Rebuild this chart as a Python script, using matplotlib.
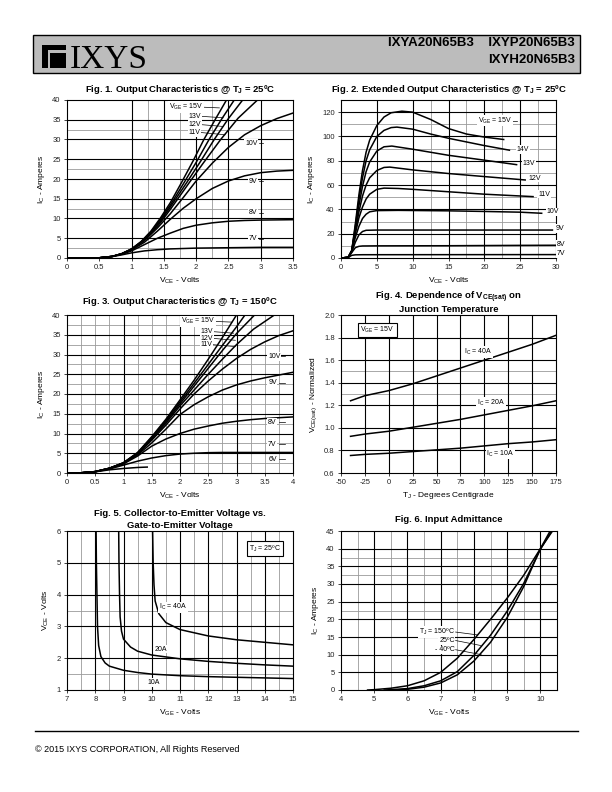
import matplotlib
matplotlib.use('Agg')
import matplotlib.pyplot as plt
from matplotlib.patches import Rectangle
from matplotlib.lines import Line2D

plt.rcParams['font.family'] = ['Liberation Sans', 'DejaVu Sans']
plt.rcParams['mathtext.default'] = 'regular'
NARROW = ['Liberation Sans Narrow', 'Liberation Sans', 'DejaVu Sans']

# ---- Fig. 1: output characteristics @ Tj = 25C (VCE volts -> IC amps) ----
f1_15v_x = [0, 0.5, 0.7, 0.85, 1.0, 1.15, 1.3, 1.45, 1.6, 1.77, 1.95, 2.12, 2.3, 2.47]
f1_15v_y = [0, 0.05, 0.4, 1.1, 2.3, 4.2, 6.8, 10.2, 14.0, 19.0, 24.5, 30, 35.2, 40]
f1_13v_x = [0, 0.5, 0.7, 0.85, 1.0, 1.15, 1.3, 1.45, 1.6, 1.81, 2.0, 2.2, 2.4, 2.59]
f1_13v_y = [0, 0.05, 0.4, 1.1, 2.3, 4.1, 6.6, 9.8, 13.4, 19.0, 24.2, 30, 35.3, 40]
f1_12v_x = [0, 0.5, 0.7, 0.85, 1.0, 1.15, 1.3, 1.45, 1.6, 1.85, 2.05, 2.28, 2.5, 2.72]
f1_12v_y = [0, 0.05, 0.4, 1.1, 2.25, 4.0, 6.4, 9.4, 12.9, 19.0, 24.0, 30, 35.3, 40]
f1_11v_x = [0, 0.5, 0.7, 0.85, 1.0, 1.15, 1.3, 1.45, 1.6, 1.89, 2.1, 2.38, 2.65, 2.95]
f1_11v_y = [0, 0.05, 0.4, 1.1, 2.2, 3.9, 6.2, 9.0, 12.3, 19.0, 23.8, 30, 35.4, 40]
f1_10v_x = [0, 0.5, 0.7, 0.85, 1.0, 1.2, 1.4, 1.6, 1.8, 2.0, 2.25, 2.5, 2.75, 3.0, 3.25, 3.5]
f1_10v_y = [0, 0.05, 0.4, 1.05, 2.1, 4.4, 7.6, 11.2, 15.3, 19.5, 24.0, 28.0, 31.2, 33.5, 35.3, 36.7]
f1_9v_x = [0, 0.5, 0.7, 0.85, 1.0, 1.2, 1.4, 1.6, 1.8, 2.0, 2.25, 2.5, 2.75, 3.0, 3.25, 3.5]
f1_9v_y = [0, 0.05, 0.4, 1.0, 2.0, 4.0, 6.8, 9.8, 12.6, 15.0, 17.6, 19.5, 20.8, 21.6, 22.0, 22.2]
f1_8v_x = [0, 0.5, 0.7, 0.85, 1.0, 1.2, 1.4, 1.6, 1.8, 2.0, 2.25, 2.5, 2.75, 3.0, 3.5]
f1_8v_y = [0, 0.05, 0.4, 0.95, 1.8, 3.4, 5.0, 6.3, 7.5, 8.3, 8.9, 9.3, 9.5, 9.6, 9.7]
f1_7v_x = [0, 0.5, 0.7, 0.85, 1.0, 1.2, 1.4, 1.6, 2.0, 2.5, 3.0, 3.5]
f1_7v_y = [0, 0.05, 0.35, 0.8, 1.3, 1.8, 2.1, 2.3, 2.5, 2.6, 2.7, 2.7]

# ---- Fig. 2: extended output characteristics @ 25C ----
f2_15v_x = [0, 1.0, 1.5, 2.0, 2.5, 3.0, 3.5, 4.0, 5.0, 6.0, 7.0, 8.5, 10, 12.5, 15, 17.5, 20, 22.7]
f2_15v_y = [0, 0.5, 6, 28, 52, 72, 87, 97, 109, 116, 119.5, 120.8, 120, 114, 106.5, 102, 99.5, 97.5]
f2_14v_x = [0, 1.0, 1.5, 2.0, 2.5, 3.0, 3.5, 4.0, 5.0, 6.0, 7.0, 7.8, 10, 12.5, 15, 17.5, 20, 23.5]
f2_14v_y = [0, 0.5, 6, 26, 48, 66, 80, 89, 100, 105, 107.3, 107.7, 106, 102, 98.5, 95.5, 92.5, 88.7]
f2_13v_x = [0, 1.0, 1.5, 2.0, 2.5, 3.0, 3.5, 4.0, 5.0, 6.0, 7.1, 10, 12.5, 15, 17.5, 20, 24.5]
f2_13v_y = [0, 0.5, 6, 24, 43, 59, 71, 79, 88, 91.5, 92.1, 89.5, 87, 84.5, 82.5, 80.5, 76.8]
f2_12v_x = [0, 1.0, 1.5, 2.0, 2.5, 3.0, 3.5, 4.0, 5.0, 6.0, 6.8, 10, 15, 20, 25.7]
f2_12v_y = [0, 0.5, 6, 22, 38, 51, 60, 66, 72, 74.5, 74.8, 72.5, 69.5, 67, 64.2]
f2_11v_x = [0, 1.0, 1.5, 2.0, 2.5, 3.0, 3.5, 4.0, 5.0, 6.0, 8, 10, 15, 20, 26.8]
f2_11v_y = [0, 0.5, 6, 20, 33, 42, 48.5, 52.5, 56.5, 57.5, 57.2, 56.5, 54.5, 52.5, 50.5]
f2_10v_x = [0, 1.0, 1.5, 2.0, 2.5, 3.0, 3.5, 4.0, 5.0, 8, 15, 20, 25, 28]
f2_10v_y = [0, 0.5, 5.5, 17, 26, 32.5, 36, 38, 39, 39.2, 38.8, 38.3, 37.7, 36.8]
f2_9v_x = [0, 1.0, 1.5, 2.0, 2.5, 3.0, 3.5, 5, 15, 29.5]
f2_9v_y = [0, 0.5, 5, 13, 19, 21.8, 22.8, 23, 23, 23]
f2_8v_x = [0, 1.0, 1.5, 2.0, 2.5, 3.0, 5, 15, 25, 30]
f2_8v_y = [0, 0.5, 4.5, 8.5, 9.6, 9.9, 10, 10.1, 10.4, 10.5]
f2_7v_x = [0, 1.0, 1.5, 2.0, 3, 30]
f2_7v_y = [0, 0.4, 2.2, 2.6, 2.7, 2.8]

# ---- Fig. 3: output characteristics @ Tj = 150C ----
f3_x = [0, 0.25, 0.5, 0.75, 1.0, 1.25, 1.5, 1.75, 2.0, 2.25, 2.5, 2.75, 3.0, 3.25, 3.5, 3.75, 4.0]
f3_15v_x = f3_x[:13]
f3_15v_y = [0, 0.05, 0.35, 1.2, 2.6, 5.2, 9.2, 13.6, 18.5, 23.5, 28.8, 34.3, 40]
f3_13v_x = f3_x[:13] + [3.15]
f3_13v_y = [0, 0.05, 0.35, 1.2, 2.6, 5.1, 9.0, 13.3, 18.0, 22.7, 27.5, 32.3, 37.0, 40]
f3_12v_x = f3_x[:13] + [3.32]
f3_12v_y = [0, 0.05, 0.35, 1.2, 2.55, 5.0, 8.8, 13.0, 17.5, 22.0, 26.5, 31.0, 35.3, 40]
f3_11v_x = f3_x[:13] + [3.3, 3.67]
f3_11v_y = [0, 0.05, 0.35, 1.2, 2.5, 4.9, 8.6, 12.6, 17.0, 21.0, 25.0, 28.8, 32.5, 36.4, 40]
f3_10v_y = [0, 0.05, 0.35, 1.2, 2.5, 4.8, 8.3, 12.1, 16.2, 20.0, 23.3, 26.3, 29.0, 31.3, 33.2, 34.8, 36.0]
f3_9v_y = [0, 0.05, 0.35, 1.15, 2.4, 4.6, 7.6, 11.1, 14.8, 17.3, 19.3, 21.0, 22.3, 23.3, 24.1, 24.8, 25.5]
f3_8v_y = [0, 0.05, 0.35, 1.1, 2.3, 4.3, 6.8, 8.6, 10.0, 11.1, 11.9, 12.6, 13.1, 13.5, 13.8, 14.0, 14.2]
f3_7v_y = [0, 0.05, 0.3, 1.0, 2.0, 3.0, 3.8, 4.4, 4.8, 5.0, 5.15, 5.2, 5.2, 5.2, 5.2, 5.2, 5.2]
f3_6v_x = [0, 0.25, 0.5, 0.75, 1.0, 1.25, 1.42]
f3_6v_y = [0, 0.05, 0.3, 0.8, 1.15, 1.4, 1.5]

# ---- Fig. 4: VCE(sat) normalized vs junction temperature ----
f4_tj = [-40, -25, 0, 25, 50, 75, 100, 125, 150, 175]
f4_40a = [1.24, 1.285, 1.33, 1.39, 1.46, 1.53, 1.60, 1.67, 1.74, 1.82]
f4_20a = [0.925, 0.945, 0.97, 1.005, 1.04, 1.075, 1.115, 1.155, 1.195, 1.24]
f4_10a = [0.755, 0.765, 0.775, 0.79, 0.805, 0.82, 0.84, 0.86, 0.875, 0.895]

# ---- Fig. 5: VCE vs VGE @ 25C ----
f5_40a_x = [10.03, 10.05, 10.08, 10.12, 10.25, 10.5, 11, 12, 13, 14, 15]
f5_40a_y = [6.0, 5.0, 4.3, 3.8, 3.4, 3.12, 2.9, 2.7, 2.58, 2.5, 2.42]
f5_20a_x = [8.83, 8.84, 8.86, 8.88, 8.93, 9.0, 9.25, 9.5, 10, 11, 12, 13, 14, 15]
f5_20a_y = [6.0, 5.0, 4.0, 3.3, 2.85, 2.6, 2.35, 2.22, 2.1, 1.98, 1.9, 1.84, 1.79, 1.75]
f5_10a_x = [8.03, 8.04, 8.06, 8.08, 8.12, 8.2, 8.35, 8.5, 9, 9.5, 10, 11, 12, 13, 14, 15]
f5_10a_y = [6.0, 5.0, 4.0, 3.0, 2.4, 2.05, 1.85, 1.75, 1.62, 1.55, 1.5, 1.45, 1.42, 1.4, 1.38, 1.36]

# ---- Fig. 6: input admittance ----
f6_150_x = [4.8, 5.0, 5.5, 6.0, 6.5, 7.0, 7.5, 8.0, 8.5, 9.0, 9.5, 10.0, 10.38]
f6_150_y = [0, 0.1, 0.5, 1.2, 2.6, 5.0, 9.0, 14.3, 20.0, 26.0, 32.5, 40.0, 45.2]
f6_25_x = [5.3, 5.5, 6.0, 6.5, 7.0, 7.5, 8.0, 8.5, 9.0, 9.5, 10.0, 10.37]
f6_25_y = [0, 0.1, 0.4, 1.2, 2.6, 5.2, 9.8, 15.5, 22.3, 30.2, 39.8, 45.5]
f6_m40_x = [5.6, 6.0, 6.5, 7.0, 7.5, 8.0, 8.5, 9.0, 9.5, 10.0, 10.34]
f6_m40_y = [0, 0.2, 0.8, 2.0, 4.3, 8.2, 13.5, 20.5, 29.3, 40.0, 45.8]

W, H = 612, 792
fig = plt.figure(figsize=(6.12, 7.92), dpi=100)


def add_axes(x0, x1, y0, y1):
    # pixel box on the page -> figure fraction
    return fig.add_axes([x0 / W, 1 - y1 / H, (x1 - x0) / W, (y1 - y0) / H])


def grid(ax, xb=(), yb=(), xg=(), yg=()):
    for v in xg:
        ax.axvline(v, color='#9a9a9a', lw=0.6, zorder=1)
    for v in yg:
        ax.axhline(v, color='#9a9a9a', lw=0.6, zorder=1)
    for v in xb:
        ax.axvline(v, color='black', lw=0.8, zorder=1)
    for v in yb:
        ax.axhline(v, color='black', lw=0.8, zorder=1)


def style(ax, xlim, ylim, xticks, yticks, xlabel, ylabel, yfmt='{:g}'):
    ax.set_xlim(xlim)
    ax.set_ylim(ylim)
    ax.set_xticks(xticks)
    ax.set_xticklabels([f'{v:g}' for v in xticks])
    ax.set_yticks(yticks)
    ax.set_yticklabels([yfmt.format(v) for v in yticks])
    ax.tick_params(labelsize=5.5, length=2.5, width=0.6, pad=2, colors='#222222')
    for s in ax.spines.values():
        s.set_linewidth(0.8)
    ax.set_xlabel(xlabel, fontsize=6, labelpad=3)
    ax.set_ylabel(ylabel, fontsize=6, labelpad=4)


def curve(ax, x, y):
    ax.plot(x, y, color='black', lw=1.1, zorder=3)


def tag(ax, x, y, s, ha='left', box=False):
    ax.text(x, y, s, fontsize=5, ha=ha, va='center', zorder=6, clip_on=False,
            bbox=dict(facecolor='white', edgecolor='black' if box else 'none',
                      pad=1.5 if box else 0.5, lw=0.8))


def leader(ax, x0, y0, x1, y1):
    ax.plot([x0, x1], [y0, y1], color='black', lw=0.5, zorder=5, clip_on=False)


def title(ax, lines, y_px):
    # one fig.text per line keeps the spacing fixed even with subscripts
    b = ax.get_position()
    for i, text in enumerate(lines):
        fig.text((b.x0 + b.x1) / 2, 1 - (y_px + 12 * i) / H, text, ha='center', va='center',
                 fontsize=6.8, fontweight='bold', family=NARROW)


# ---- page header ----
fig.add_artist(Rectangle((33 / W, 1 - 73 / H), (580 - 33) / W, 38 / H, transform=fig.transFigure,
                         facecolor='#bcbcbc', edgecolor='black', lw=1))


def px_rect(x, y, w, h, color):
    fig.add_artist(Rectangle((x / W, 1 - (y + h) / H), w / W, h / H, transform=fig.transFigure,
                             facecolor=color, edgecolor='none'))


px_rect(42, 45, 24, 23, 'black')
px_rect(47.5, 50, 2.5, 18, '#bcbcbc')
px_rect(47.5, 50, 18.5, 2.5, '#bcbcbc')
fig.text(70 / W, 1 - 68 / H, 'IXYS', family=['Liberation Serif', 'DejaVu Serif'], fontsize=24,
         va='baseline', ha='left')
fig.text(575 / W, 1 - 43 / H, 'IXYA20N65B3    IXYP20N65B3', ha='right', va='center', fontsize=9.5,
         fontweight='bold', family=NARROW)
fig.text(575 / W, 1 - 60 / H, 'IXYH20N65B3', ha='right', va='center', fontsize=9.5,
         fontweight='bold', family=NARROW)

# ---- Fig. 1 ----
ax1 = add_axes(67, 293, 100, 258)
grid(ax1, xb=[1, 1.5, 2, 2.5, 3], yb=[5, 10, 15, 20, 25, 30, 35],
     xg=[1.25, 1.75, 2.25], yg=[2.5, 12.5, 22.5, 32.5])
for x, y in [(f1_15v_x, f1_15v_y), (f1_13v_x, f1_13v_y), (f1_12v_x, f1_12v_y), (f1_11v_x, f1_11v_y),
             (f1_10v_x, f1_10v_y), (f1_9v_x, f1_9v_y), (f1_8v_x, f1_8v_y), (f1_7v_x, f1_7v_y)]:
    curve(ax1, x, y)
style(ax1, (0, 3.5), (0, 40), [0, 0.5, 1, 1.5, 2, 2.5, 3, 3.5], list(range(0, 41, 5)),
      'V$_{CE}$ - Volts', 'I$_C$ - Amperes')
tag(ax1, 1.58, 38.2, 'V$_{GE}$ = 15V')
leader(ax1, 2.08, 38.2, 2.36, 38.0)
tag(ax1, 1.88, 35.9, '13V')
leader(ax1, 2.05, 35.9, 2.42, 35.5)
tag(ax1, 1.88, 33.8, '12V')
leader(ax1, 2.05, 33.8, 2.42, 33.3)
tag(ax1, 1.88, 31.8, '11V')
leader(ax1, 2.05, 31.8, 2.45, 31.2)
for yy, s in [(29.0, '10V'), (19.4, '9V'), (11.4, '8V'), (4.9, '7V')]:
    tag(ax1, 2.95, yy, s, ha='right')
    leader(ax1, 2.97, yy, 3.04, yy)
title(ax1, ['Fig. 1. Output Characteristics @ T$_J$ = 25ºC'], 89)

# ---- Fig. 2 ----
ax2 = add_axes(341, 556, 100, 258)
grid(ax2, xb=[5, 10, 15, 20, 25], yb=[20, 40, 60, 80, 100, 120],
     xg=[12.5, 17.5, 22.5, 27.5], yg=[10, 30, 50, 70, 90, 110])
for x, y in [(f2_15v_x, f2_15v_y), (f2_14v_x, f2_14v_y), (f2_13v_x, f2_13v_y), (f2_12v_x, f2_12v_y),
             (f2_11v_x, f2_11v_y), (f2_10v_x, f2_10v_y), (f2_9v_x, f2_9v_y), (f2_8v_x, f2_8v_y),
             (f2_7v_x, f2_7v_y)]:
    curve(ax2, x, y)
style(ax2, (0, 30), (0, 130), [0, 5, 10, 15, 20, 25, 30], list(range(0, 121, 20)),
      'V$_{CE}$ - Volts', 'I$_C$ - Amperes')
tag(ax2, 19.1, 113, 'V$_{GE}$ = 15V')
leader(ax2, 23.5, 113, 24.6, 113)
for xx, yy, s in [(24.5, 89.3, '14V'), (25.3, 77.6, '13V'), (26.1, 65.6, '12V'), (27.5, 52.5, '11V'),
                  (28.7, 38.0, '10V'), (29.9, 24.3, '9V'), (30.1, 11.2, '8V'), (30.1, 3.6, '7V')]:
    tag(ax2, xx, yy, s)
title(ax2, ['Fig. 2. Extended Output Characteristics @ T$_J$ = 25ºC'], 89)

# ---- Fig. 3 ----
ax3 = add_axes(67, 293, 315, 473)
grid(ax3, xb=[1, 2, 3], yb=[5, 10, 15, 20, 25, 30, 35],
     xg=[v for v in f3_x[1:-1] if v % 1], yg=[2.5, 7.5, 12.5, 17.5, 22.5, 27.5, 32.5, 37.5])
for x, y in [(f3_15v_x, f3_15v_y), (f3_13v_x, f3_13v_y), (f3_12v_x, f3_12v_y), (f3_11v_x, f3_11v_y),
             (f3_x, f3_10v_y), (f3_x, f3_9v_y), (f3_x, f3_8v_y), (f3_x, f3_7v_y), (f3_6v_x, f3_6v_y)]:
    curve(ax3, x, y)
style(ax3, (0, 4), (0, 40), [0, 0.5, 1, 1.5, 2, 2.5, 3, 3.5, 4], list(range(0, 41, 5)),
      'V$_{CE}$ - Volts', 'I$_C$ - Amperes')
tag(ax3, 2.02, 38.4, 'V$_{GE}$ = 15V')
leader(ax3, 2.57, 38.4, 2.92, 38.2)
tag(ax3, 2.37, 35.8, '13V')
leader(ax3, 2.57, 35.8, 2.95, 35.4)
tag(ax3, 2.37, 34.1, '12V')
leader(ax3, 2.57, 34.1, 2.98, 33.6)
tag(ax3, 2.37, 32.5, '11V')
leader(ax3, 2.57, 32.5, 2.98, 32.0)
for yy, s in [(29.5, '10V'), (22.8, '9V'), (12.8, '8V'), (7.3, '7V'), (3.5, '6V')]:
    tag(ax3, 3.56, yy, s)
    leader(ax3, 3.76, yy, 3.85, yy)
title(ax3, ['Fig. 3. Output Characteristics @ T$_J$ = 150ºC'], 302)

# ---- Fig. 4 ----
ax4 = add_axes(341, 556, 315, 473)
grid(ax4, xb=[-25, 0, 25, 50, 75, 100, 125, 150], yb=[0.8, 1.0, 1.2, 1.4, 1.6, 1.8], yg=[1.3, 1.5])
for y in [f4_40a, f4_20a, f4_10a]:
    curve(ax4, f4_tj, y)
style(ax4, (-50, 175), (0.6, 2.0), list(range(-50, 176, 25)),
      [0.6, 0.8, 1.0, 1.2, 1.4, 1.6, 1.8, 2.0], 'T$_J$ - Degrees Centigrade',
      'V$_{CE(sat)}$ - Normalized', yfmt='{:.1f}')
tag(ax4, -12, 1.865, 'V$_{GE}$ = 15V', ha='center', box=True)
tag(ax4, 79, 1.67, 'I$_C$ = 40A')
tag(ax4, 92, 1.22, 'I$_C$ = 20A')
tag(ax4, 102, 0.773, 'I$_C$ = 10A')
title(ax4, ['Fig. 4. Dependence of V$_{CE(sat)}$ on', 'Junction Temperature'], 297)

# ---- Fig. 5 ----
ax5 = add_axes(67, 293, 531, 690)
grid(ax5, xb=list(range(8, 15)), yb=[2, 3, 4, 5],
     xg=[7.5, 8.5, 9.5, 10.5, 11.5, 12.5, 13.5, 14.5], yg=[1.5, 3.5])
for x, y in [(f5_40a_x, f5_40a_y), (f5_20a_x, f5_20a_y), (f5_10a_x, f5_10a_y)]:
    curve(ax5, x, y)
style(ax5, (7, 15), (1, 6), list(range(7, 16)), list(range(1, 7)),
      'V$_{GE}$ - Volts', 'V$_{CE}$ - Volts')
tag(ax5, 10.25, 3.6, 'I$_C$ = 40A')
tag(ax5, 10.1, 2.28, '20A')
tag(ax5, 9.85, 1.23, '10A')
tag(ax5, 14.0, 5.45, 'T$_J$ = 25ºC', ha='center', box=True)
title(ax5, ['Fig. 5. Collector-to-Emitter Voltage vs.', 'Gate-to-Emitter Voltage'], 513)

# ---- Fig. 6 ----
ax6 = add_axes(341, 557, 531, 690)
grid(ax6, xb=[5, 6, 7, 8, 9, 10], yb=[5, 10, 15, 20, 25, 30, 35, 40],
     xg=[4.5, 5.5, 6.5, 7.5, 8.5, 9.5], yg=[22.5, 32.5, 37.5])
for x, y in [(f6_150_x, f6_150_y), (f6_25_x, f6_25_y), (f6_m40_x, f6_m40_y)]:
    curve(ax6, x, y)
style(ax6, (4, 10.5), (0, 45), list(range(4, 11)), list(range(0, 46, 5)),
      'V$_{GE}$ - Volts', 'I$_C$ - Amperes')
tag(ax6, 7.42, 16.4, 'T$_J$ = 150ºC', ha='right')
leader(ax6, 7.45, 16.4, 8.1, 15.6)
tag(ax6, 7.42, 14.0, '25ºC', ha='right')
leader(ax6, 7.45, 14.0, 8.2, 12.6)
tag(ax6, 7.42, 11.4, '- 40ºC', ha='right')
leader(ax6, 7.45, 11.4, 8.22, 10.0)
title(ax6, ['Fig. 6. Input Admittance'], 519)

# ---- footer ----
fig.add_artist(Line2D([35 / W, 578 / W], [1 - 731 / H] * 2, color='black', lw=1))
fig.text(35 / W, 1 - 750 / H, '© 2015 IXYS CORPORATION, All Rights Reserved', fontsize=6.5,
         va='center', ha='left')

fig.savefig('out.png', dpi=100)
